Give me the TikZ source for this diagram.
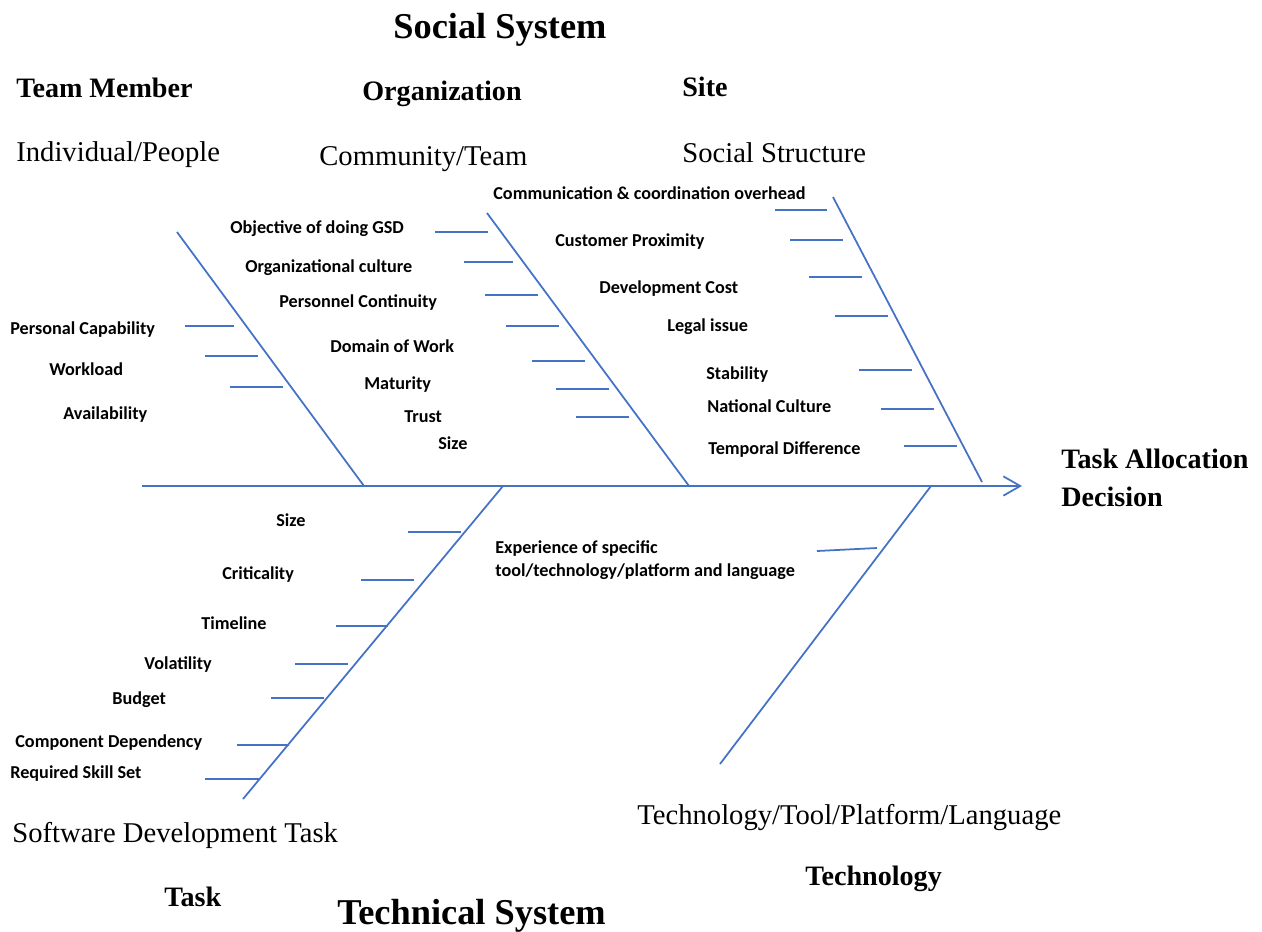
\documentclass[tikz,border=0pt]{standalone}
\usepackage{fontspec}
\setmainfont{Liberation Serif}
\newfontfamily\calibri{Carlito}
\usepackage{tikz}
\usetikzlibrary{arrows.meta, positioning}
\definecolor{fbBlue}{HTML}{4472C4}

\begin{document}
\begin{tikzpicture}[
  x=0.02cm, y=-0.02cm,
  bone/.style={draw=fbBlue, line width=1pt},
  cause/.style={font=\calibri\bfseries\fontsize{10.35}{12.5}\selectfont, anchor=west, inner sep=0pt, yshift=-1pt},
  heading/.style={font=\bfseries\fontsize{16}{19}\selectfont, anchor=west, inner sep=0pt, yshift=-0.5pt},
  subhead/.style={font=\fontsize{16.3}{19.5}\selectfont, anchor=west, inner sep=0pt, yshift=-2pt},
  sysname/.style={font=\bfseries\fontsize{20.7}{24}\selectfont, anchor=west, inner sep=0pt, yshift=-2pt},
]
  \useasboundingbox (0,0) rectangle (1262,931);

  % spine and bones
  \coordinate (tail) at (142,486);
  \coordinate (effect) at (1022,486);
  \coordinate (m1) at (177,232);  \coordinate (m0) at (364,486);
  \coordinate (o1) at (487,213);  \coordinate (o0) at (689,486);
  \coordinate (s1) at (833,197);  \coordinate (s0) at (982,482);
  \coordinate (t0) at (503,486);  \coordinate (t1) at (243,799);
  \coordinate (g0) at (931,486);  \coordinate (g1) at (720,764);

  \draw[bone, -{Straight Barb[length=9.6pt, width=11pt]}] (tail) -- (effect);
  \draw[bone] (m1) -- (m0);
  \draw[bone] (o1) -- (o0);
  \draw[bone] (s1) -- (s0);
  \draw[bone] (t0) -- (t1);
  \draw[bone] (g0) -- (g1);

  % ribs
  \foreach \y/\a/\b in {326/185/234, 356/205/258, 387/230/283,
      232/435/488, 262/464/513, 295/485/538, 326/506/559, 361/532/585, 389/556/609, 417/576/629,
      210/775/827, 240/790/843, 277/809/862, 316/835/888, 370/859/912, 409/881/934, 446/904/957,
      532/408/461, 580/361/414, 626/336/388, 664/295/348, 698/271/324, 745/237/289, 779/205/259}
    \draw[bone] (\a,\y) -- (\b,\y);
  \draw[bone] (817,551) -- (877,548);

  % titles
  \node[sysname] (social) at (393,26) {Social System};
  \node[sysname] (technical) at (337,912) {Technical System};
  \node[heading] (member) at (16,87) {Team Member};
  \node[heading] (org) at (362,93) {Organization};
  \node[heading] (site) at (682,86) {Site};
  \node[subhead] (people) at (16,151) {Individual/People};
  \node[subhead] (community) at (319,156) {Community/Team};
  \node[subhead] (structure) at (682,149) {Social Structure};
  \node[heading, align=left, anchor=north west] (decision) at (1061,448) {Task Allocation\\[2.5pt]Decision};
  \node[subhead] (sdtask) at (12,832) {Software Development Task};
  \node[subhead] (tools) at (637,814) {Technology/Tool/Platform/Language};
  \node[heading] (tech) at (805,878) {Technology};
  \node[heading] (task) at (164,896) {Task};

  % team member causes
  \node[cause] (capab) at (10,328) {Personal Capability};
  \node[cause] (workload) at (49,367) {Workload};
  \node[cause] (avail) at (63,413) {Availability};

  % organization causes
  \node[cause] (goal) at (230,227) {Objective of doing GSD};
  \node[cause] (culture) at (245,266) {Organizational culture};
  \node[cause] (contin) at (279,301) {Personnel Continuity};
  \node[cause] (domain) at (330,344) {Domain of Work};
  \node[cause] (maturity) at (364,383) {Maturity};
  \node[cause] (trust) at (404,415) {Trust};
  \node[cause] (osize) at (438,441) {Size};

  % site causes
  \node[cause] (comm) at (493,191) {Communication \& coordination overhead};
  \node[cause] (proxim) at (555,240) {Customer Proximity};
  \node[cause] (cost) at (599,287) {Development Cost};
  \node[cause] (legal) at (667,325) {Legal issue};
  \node[cause] (stabil) at (706,373) {Stability};
  \node[cause] (natcult) at (707,404) {National Culture};
  \node[cause] (tempdiff) at (708,448) {Temporal Difference};

  % task causes
  \node[cause] (tsize) at (276,518) {Size};
  \node[cause] (critic) at (222,573) {Criticality};
  \node[cause] (timeline) at (201,621) {Timeline};
  \node[cause] (volat) at (144,663) {Volatility};
  \node[cause] (budget) at (112,698) {Budget};
  \node[cause] (compdep) at (15,741) {Component Dependency};
  \node[cause] (skills) at (10,772) {Required Skill Set};

  % technology cause
  \node[cause, align=left, anchor=north west] (exper) at (495,539)
    {Experience of specific\\[0.6pt]tool/technology/platform and language};
\end{tikzpicture}
\end{document}
